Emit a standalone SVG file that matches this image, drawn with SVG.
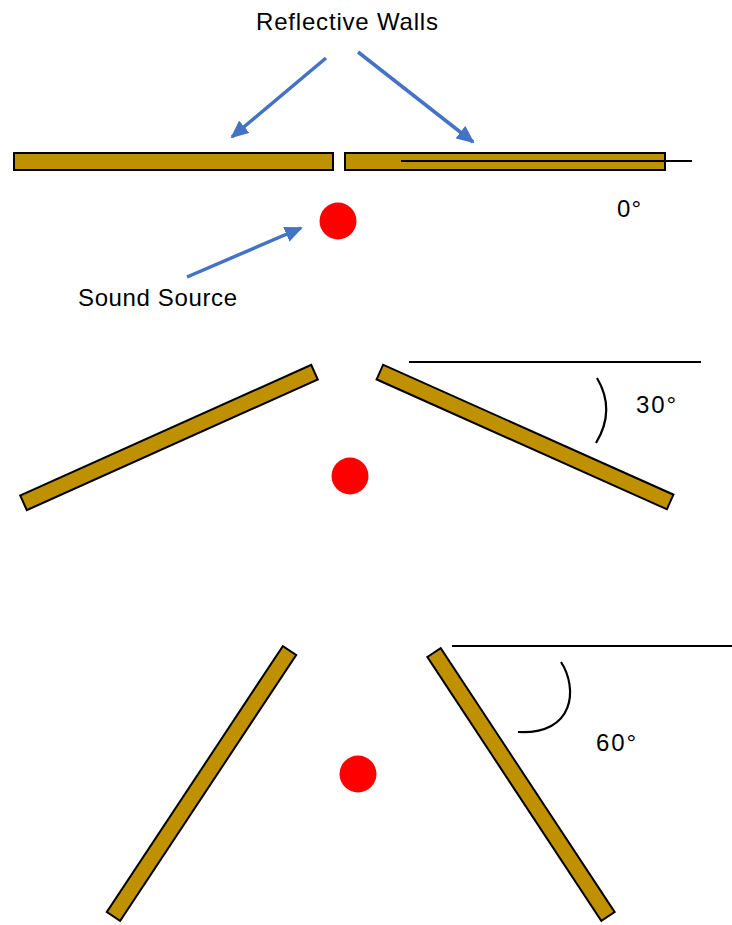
<svg xmlns="http://www.w3.org/2000/svg" width="732" height="925" viewBox="0 0 732 925">
<style>
.wall{fill:#BF9000;stroke:#000;stroke-width:2}
.src{fill:#FF0000}
.ref{stroke:#000;stroke-width:2.2;fill:none}
.arr{stroke:#4472C4;stroke-width:3.5;fill:none;marker-end:url(#ah)}
text{font-family:"Liberation Sans",Arial,sans-serif;font-size:24px;fill:#000}
</style>
<defs>
<marker id="ah" markerUnits="userSpaceOnUse" markerWidth="18" markerHeight="16" viewBox="0 0 18 16" refX="16" refY="8" orient="auto">
<path d="M0,0 L18,8 L0,16 Z" fill="#4472C4"/>
</marker>
</defs>
<g id="title"><text x="256" y="30" textLength="182">Reflective Walls</text></g>
<g id="row0">
<g id="wall-0-left"><rect class="wall" x="14" y="153" width="319" height="17"/></g>
<g id="wall-0-right"><rect class="wall" x="345" y="153" width="320" height="17"/></g>
<line class="ref" x1="401" y1="161" x2="692" y2="161"/>
<g id="source-0"><circle class="src" cx="338" cy="221" r="18.5"/></g>
<text x="617" y="217" textLength="24">0°</text>
<g id="label-source"><text x="78" y="306" textLength="159">Sound Source</text></g>
</g>
<g id="row30">
<g id="wall-30-left"><rect class="wall" x="-159.5" y="-8" width="319" height="16" transform="translate(169,437.5) rotate(-24.2)"/></g>
<g id="wall-30-right"><rect class="wall" x="-159" y="-8" width="318" height="16" transform="translate(525,437) rotate(24.1)"/></g>
<line class="ref" x1="409" y1="362" x2="701" y2="362"/>
<path class="ref" d="M597,378 Q616,410 596,443"/>
<g id="source-30"><circle class="src" cx="350" cy="476" r="18.5"/></g>
<text x="636" y="413" textLength="40">30°</text>
</g>
<g id="row60">
<g id="wall-60-left"><rect class="wall" x="-159.5" y="-8" width="319" height="16" transform="translate(201.5,783.5) rotate(-56.5)"/></g>
<g id="wall-60-right"><rect class="wall" x="-158" y="-8" width="316" height="16" transform="translate(521,784.5) rotate(56.6)"/></g>
<line class="ref" x1="452" y1="646" x2="732" y2="646"/>
<path class="ref" d="M561,662 C578,688 575,735 518,732"/>
<g id="source-60"><circle class="src" cx="358" cy="774" r="18.5"/></g>
<text x="596" y="751" textLength="40">60°</text>
</g>
<g id="connectors">
<line class="arr" x1="326" y1="58" x2="232" y2="137"/>
<line class="arr" x1="358" y1="52" x2="473" y2="142"/>
<line class="arr" x1="187" y1="277" x2="301" y2="228"/>
</g>
</svg>
